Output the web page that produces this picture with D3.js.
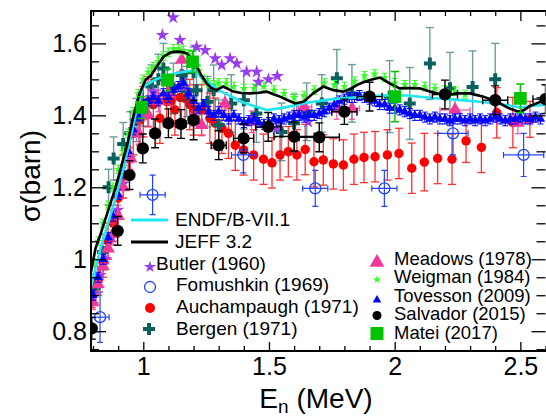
<!DOCTYPE html>
<html><head><meta charset="utf-8">
<script src="https://cdn.jsdelivr.net/npm/d3@7"></script>
<style>body{margin:0;background:#fff}svg{display:block}</style>
</head><body><svg id="c" width="546" height="417"></svg>
<script>
// ---------- DATA ----------
const xMajorTicks = [1, 1.5, 2, 2.5];
const yMajorTicks = [0.8, 1, 1.2, 1.4, 1.6];
const xTickLabels = ["1", "1.5", "2", "2.5"];
const yTickLabels = ["0.8", "1", "1.2", "1.4", "1.6"];

const endf = [[0.792,0.925],[0.81,0.975],[0.83,1.03],[0.86,1.10],[0.89,1.17],[0.92,1.25],[0.95,1.34],[0.975,1.42],[1.0,1.48],[1.05,1.50],[1.10,1.512],[1.15,1.52],[1.20,1.525],[1.23,1.505],[1.30,1.47],[1.40,1.435],[1.49,1.415],[1.55,1.42],[1.65,1.435],[1.75,1.445],[1.85,1.45],[1.95,1.455],[2.05,1.455],[2.15,1.448],[2.25,1.443],[2.35,1.437],[2.45,1.428],[2.5,1.422],[2.6,1.43]];

const jeff = [[0.792,0.965],[0.81,1.03],[0.83,1.07],[0.86,1.135],[0.89,1.20],[0.915,1.265],[0.935,1.315],[0.96,1.395],[0.985,1.46],[1.01,1.50],[1.03,1.51],[1.053,1.535],[1.08,1.563],[1.11,1.575],[1.133,1.577],[1.155,1.576],[1.173,1.572],[1.19,1.56],[1.21,1.54],[1.23,1.512],[1.252,1.489],[1.27,1.476],[1.29,1.47],[1.318,1.48],[1.358,1.466],[1.39,1.462],[1.425,1.461],[1.46,1.463],[1.491,1.466],[1.52,1.458],[1.544,1.452],[1.575,1.442],[1.604,1.433],[1.638,1.438],[1.676,1.461],[1.716,1.48],[1.756,1.47],[1.796,1.466],[1.825,1.474],[1.849,1.484],[1.875,1.492],[1.902,1.498],[1.942,1.505],[1.98,1.489],[2.02,1.475],[2.06,1.476],[2.1,1.475],[2.14,1.466],[2.175,1.46],[2.207,1.456],[2.247,1.461],[2.3,1.461],[2.353,1.452],[2.38,1.445],[2.407,1.438],[2.447,1.422],[2.492,1.41],[2.515,1.415],[2.538,1.426],[2.6,1.443]];

// [x, y]
const butler = [[0.80,0.90],[0.828,0.956],[0.85,1.0],[0.875,1.06],[0.898,1.137],[0.92,1.21],[0.945,1.28],[0.97,1.35],[1.0,1.40],[1.04,1.466],[1.076,1.623],[1.119,1.672],[1.146,1.609],[1.16,1.48],[1.212,1.59],[1.246,1.581],[1.286,1.558],[1.312,1.54],[1.345,1.558],[1.372,1.544],[1.411,1.521],[1.451,1.521],[1.458,1.493],[1.498,1.50],[1.533,1.509],[1.53,1.364],[1.617,1.405],[1.656,1.382]];

// [x, y, xErr, yErr]
const fomushkin = [[0.828,0.839,0.036,0.07],[1.037,1.179,0.05,0.055],[1.398,1.29,0.047,0.05],[1.684,1.197,0.05,0.05],[1.959,1.197,0.05,0.05],[2.232,1.35,0.06,0.06],[2.513,1.29,0.08,0.06]];

// [x, y, yErr]
const auchampaugh = [[0.795,0.895,0.03],[0.82,0.94,0.04],[0.84,0.99,0.04],[0.86,1.05,0.05],[0.88,1.10,0.05],[0.90,1.17,0.05],[0.92,1.23,0.06],[0.94,1.29,0.06],[0.96,1.35,0.06],[0.987,1.387,0.07],[1.0,1.41,0.07],[1.019,1.438,0.07],[1.04,1.43,0.07],[1.066,1.392,0.07],[1.093,1.438,0.07],[1.11,1.44,0.07],[1.126,1.415,0.07],[1.146,1.45,0.07],[1.166,1.447,0.07],[1.185,1.43,0.07],[1.2,1.415,0.07],[1.232,1.415,0.07],[1.265,1.392,0.07],[1.286,1.378,0.07],[1.313,1.364,0.07],[1.339,1.35,0.07],[1.366,1.317,0.07],[1.399,1.304,0.07],[1.439,1.29,0.07],[1.478,1.278,0.07],[1.512,1.268,0.07],[1.544,1.29,0.07],[1.577,1.299,0.07],[1.611,1.29,0.07],[1.644,1.305,0.07],[1.679,1.271,0.07],[1.716,1.276,0.07],[1.756,1.265,0.07],[1.796,1.262,0.07],[1.838,1.278,0.07],[1.878,1.283,0.07],[1.922,1.285,0.07],[1.971,1.29,0.07],[2.017,1.294,0.07],[2.068,1.253,0.07],[2.118,1.27,0.08],[2.171,1.28,0.07],[2.228,1.278,0.07],[2.284,1.329,0.06],[2.345,1.311,0.07],[2.406,1.407,0.07],[2.47,1.38,0.07],[2.538,1.389,0.05]];

// [x, y, yErr]
const bergen = [[0.807,0.919,0.04],[0.84,1.02,0.05],[0.862,1.20,0.05],[0.882,1.28,0.06],[0.92,1.32,0.06],[0.948,1.35,0.06],[0.973,1.387,0.06],[1.00,1.43,0.06],[1.033,1.48,0.06],[1.06,1.50,0.07],[1.08,1.53,0.07],[1.12,1.475,0.07],[1.153,1.512,0.07],[1.173,1.466,0.07],[1.20,1.52,0.07],[1.212,1.47,0.07],[1.255,1.438,0.07],[1.28,1.47,0.07],[1.30,1.373,0.07],[1.35,1.433,0.08],[1.40,1.442,0.08],[1.45,1.405,0.08],[1.55,1.354,0.08],[1.60,1.378,0.08],[1.65,1.41,0.08],[1.71,1.433,0.08],[1.77,1.503,0.08],[1.83,1.461,0.08],[1.98,1.452,0.1],[2.06,1.433,0.1],[2.14,1.544,0.1],[2.22,1.475,0.1],[2.31,1.479,0.1],[2.40,1.50,0.1]];

// [x, y, xErr, yErr]
const meadows = [[0.80,0.88,0,0.02],[0.82,0.93,0,0.02],[0.84,0.98,0,0.02],[0.86,1.03,0,0.03],[0.88,1.07,0,0.03],[0.90,1.12,0,0.03],[0.92,1.20,0,0.03],[0.95,1.28,0,0.03],[0.981,1.35,0,0.03],[1.02,1.40,0,0.03],[1.06,1.44,0,0.03],[1.10,1.46,0,0.03],[1.153,1.554,0,0.03],[1.20,1.40,0,0.03],[1.232,1.373,0,0.03],[1.325,1.433,0,0.03],[1.431,1.382,0,0.03],[1.64,1.424,0.03,0.03],[1.77,1.419,0.03,0.03],[1.83,1.419,0.03,0.03],[2.24,1.415,0.06,0.03],[2.49,1.379,0.05,0.03]];

// [x, y]
const weigman = [[0.80,0.99],[0.82,1.05],[0.84,1.10],[0.86,1.15],[0.88,1.20],[0.90,1.25],[0.92,1.30],[0.94,1.35],[0.96,1.41],[0.98,1.46],[1.00,1.50],[1.02,1.52],[1.04,1.535],[1.06,1.55],[1.08,1.565],[1.10,1.575],[1.12,1.585],[1.14,1.585],[1.16,1.58],[1.18,1.57],[1.20,1.55],[1.22,1.525],[1.24,1.50],[1.26,1.49],[1.28,1.485],[1.30,1.49],[1.33,1.49],[1.36,1.48],[1.40,1.475],[1.44,1.475],[1.48,1.48],[1.52,1.47],[1.56,1.46],[1.60,1.45],[1.64,1.455],[1.68,1.47],[1.72,1.49],[1.76,1.485],[1.80,1.48],[1.84,1.495],[1.88,1.51],[1.92,1.515],[1.96,1.505],[2.00,1.49],[2.04,1.485],[2.08,1.485],[2.12,1.48],[2.16,1.475],[2.20,1.47],[2.24,1.467],[2.28,1.458]];

// [x, y]
const tovesson = [[0.80,0.90],[0.82,0.95],[0.84,1.00],[0.86,1.06],[0.88,1.12],[0.90,1.18],[0.92,1.24],[0.94,1.30],[0.96,1.36],[0.98,1.40],[1.00,1.43],[1.02,1.44],[1.04,1.45],[1.06,1.44],[1.08,1.46],[1.10,1.45],[1.12,1.47],[1.14,1.48],[1.16,1.49],[1.18,1.46],[1.20,1.44],[1.22,1.42],[1.24,1.43],[1.26,1.41],[1.28,1.40],[1.30,1.41],[1.32,1.40],[1.34,1.39],[1.36,1.40],[1.38,1.39],[1.40,1.38],[1.42,1.385],[1.44,1.39],[1.46,1.38],[1.48,1.375],[1.50,1.38],[1.52,1.39],[1.54,1.385],[1.56,1.39],[1.58,1.395],[1.60,1.40],[1.62,1.40],[1.64,1.395],[1.66,1.40],[1.68,1.40],[1.70,1.405],[1.72,1.41],[1.74,1.42],[1.76,1.43],[1.78,1.44],[1.80,1.445],[1.82,1.45],[1.84,1.45],[1.86,1.455],[1.88,1.45],[1.90,1.445],[1.92,1.44],[1.94,1.43],[1.96,1.43],[1.98,1.42],[2.00,1.42],[2.02,1.415],[2.04,1.41],[2.06,1.405],[2.08,1.40],[2.10,1.40],[2.12,1.395],[2.14,1.39],[2.16,1.395],[2.18,1.39],[2.20,1.39],[2.22,1.385],[2.24,1.39],[2.26,1.39],[2.28,1.385],[2.30,1.39],[2.32,1.385],[2.34,1.39],[2.36,1.385],[2.38,1.39],[2.40,1.395],[2.42,1.39],[2.44,1.385],[2.46,1.39],[2.48,1.39],[2.50,1.395],[2.52,1.39],[2.54,1.39],[2.56,1.395],[2.58,1.39]];

// [x, y, xErr, yErr]
const salvador = [[0.795,0.808,0,0.03],[0.898,1.079,0,0.04],[0.945,1.234,0,0.04],[0.998,1.308,0,0.04],[1.047,1.35,0,0.04],[1.10,1.378,0,0.04],[1.15,1.376,0.02,0.04],[1.20,1.387,0.02,0.055],[1.30,1.317,0.03,0.04],[1.399,1.336,0.04,0.04],[1.497,1.368,0.05,0.04],[1.60,1.341,0.08,0.04],[1.70,1.339,0.08,0.04],[1.80,1.41,0.05,0.035],[1.90,1.452,0.05,0.04],[2.20,1.458,0.05,0.04],[2.40,1.442,0.05,0.04],[2.60,1.445,0.05,0.04]];

// [x, y, yErr]
const matei = [[0.994,1.422,0.03],[1.096,1.498,0.03],[1.196,1.549,0.03],[2.001,1.452,0.07],[2.5,1.447,0.04]];

const legendLeft = ["ENDF/B-VII.1","JEFF 3.2","Butler (1960)","Fomushkin (1969)","Auchampaugh (1971)","Bergen (1971)"];
const legendRight = ["Meadows (1978)","Weigman (1984)","Tovesson (2009)","Salvador (2015)","Matei (2017)"];

// ---------- COLORS ----------
const C = {endf:"#1ee6f0", jeff:"#000", butler:"#9a3cf0", fom:"#2244ff", auch:"#ff0000", bergen:"#0a5f5f",
  meadows:"#f2389a", weig:"#33ff22", tov:"#0000ff", salv:"#000", matei:"#00c400"};

const FONT = "'Liberation Sans', Arial, Helvetica, sans-serif";
const svg = d3.select("#c");
const L = 91, R = 545.5, T = 11, B = 351;
const x = d3.scaleLinear().domain([0.792, 2.6]).range([L, R]);
const y = d3.scaleLinear().domain([0.745, 1.69]).range([B, T]);

const plot = svg.append("g");
svg.append("clipPath").attr("id","cp").append("rect").attr("x",L).attr("y",T).attr("width",R-L).attr("height",B-T);
const pg = plot.append("g").attr("clip-path","url(#cp)");

function errBars(g, data, opt) {
  const gg = g.append("g").attr("stroke", opt.color).attr("stroke-width", opt.sw||1.2).attr("opacity", opt.op||1).attr("fill","none");
  data.forEach(d => {
    const ye = opt.ye(d), xe = opt.xe ? opt.xe(d) : 0;
    const cx = x(d[0]), cy = y(d[1]);
    if (ye > 0) {
      const y1 = y(d[1]+ye), y2 = y(d[1]-ye);
      gg.append("line").attr("x1",cx).attr("x2",cx).attr("y1",y1).attr("y2",y2);
      if (opt.cap) {
        gg.append("line").attr("x1",cx-opt.cap).attr("x2",cx+opt.cap).attr("y1",y1).attr("y2",y1);
        gg.append("line").attr("x1",cx-opt.cap).attr("x2",cx+opt.cap).attr("y1",y2).attr("y2",y2);
      }
    }
    if (xe > 0) {
      const x1 = x(d[0]-xe), x2 = x(d[0]+xe);
      gg.append("line").attr("x1",x1).attr("x2",x2).attr("y1",cy).attr("y2",cy);
      if (opt.cap) {
        gg.append("line").attr("x1",x1).attr("x2",x1).attr("y1",cy-opt.cap).attr("y2",cy+opt.cap);
        gg.append("line").attr("x1",x2).attr("x2",x2).attr("y1",cy-opt.cap).attr("y2",cy+opt.cap);
      }
    }
  });
}
function marks(g, data, type, size, fill) {
  g.append("g").selectAll("path").data(data).join("path")
    .attr("transform", d => `translate(${x(d[0])},${y(d[1])})`)
    .attr("d", d3.symbol().type(type).size(size))
    .attr("fill", fill);
}

// Auchampaugh
errBars(pg, auchampaugh, {color:C.auch, ye:d=>d[2], cap:4, op:0.8, sw:1.3});
marks(pg, auchampaugh, d3.symbolCircle, 70, C.auch);
// Bergen
errBars(pg, bergen, {color:C.bergen, ye:d=>d[2], cap:4, op:0.6, sw:1.4});
marks(pg, bergen, d3.symbolCross, 80, C.bergen);
// Butler
marks(pg, butler, d3.symbolStar, 55, C.butler);
// Fomushkin
errBars(pg, fomushkin, {color:C.fom, ye:d=>d[3], xe:d=>d[2], cap:3, sw:1.2});
pg.append("g").selectAll("circle").data(fomushkin).join("circle")
  .attr("cx",d=>x(d[0])).attr("cy",d=>y(d[1])).attr("r",5.5).attr("fill","none").attr("stroke",C.fom).attr("stroke-width",1.3);
// Meadows
errBars(pg, meadows, {color:C.meadows, ye:d=>d[3], xe:d=>d[2], cap:3, op:0.8, sw:1.3});
marks(pg, meadows, d3.symbolTriangle, 80, C.meadows);
// Weigman
errBars(pg, weigman, {color:C.weig, ye:()=>0.012, cap:3, sw:1});
marks(pg, weigman, d3.symbolStar, 24, C.weig);
// Tovesson
errBars(pg, tovesson, {color:C.tov, ye:()=>0.014, cap:3, sw:1});
marks(pg, tovesson, d3.symbolTriangle, 38, C.tov);
// Lines
const line = d3.line().x(d=>x(d[0])).y(d=>y(d[1]));
pg.append("path").datum(endf).attr("d",line).attr("fill","none").attr("stroke",C.endf).attr("stroke-width",2.6);
pg.append("path").datum(jeff).attr("d",line).attr("fill","none").attr("stroke",C.jeff).attr("stroke-width",2.6);
// Salvador
errBars(pg, salvador, {color:C.salv, ye:d=>d[3], xe:d=>d[2], cap:4, sw:1.4});
marks(pg, salvador, d3.symbolCircle, 120, C.salv);
// Matei
errBars(pg, matei, {color:C.matei, ye:d=>d[2], cap:4, sw:1.4});
marks(pg, matei, d3.symbolSquare, 160, C.matei);

// ---------- AXES ----------
const minorX = d3.range(8, 27).map(v => v/10).filter(v => !xMajorTicks.some(m => Math.abs(m-v)<1e-6));
const minorY = d3.range(15, 34).map(v => v/20).filter(v => !yMajorTicks.some(m => Math.abs(m-v)<1e-6));
function styleAxis(g){ g.select(".domain").remove(); g.selectAll("line").attr("stroke","#000").attr("stroke-width",1.3); g.selectAll("text").attr("font-family",FONT).attr("font-size",25).attr("fill","#000"); }

svg.append("g").attr("transform",`translate(0,${B})`)
  .call(d3.axisBottom(x).tickValues(xMajorTicks).tickFormat((d,i)=>xTickLabels[i]).tickSizeInner(-9).tickSizeOuter(0).tickPadding(6)).call(styleAxis);
svg.append("g").attr("transform",`translate(0,${B})`)
  .call(d3.axisBottom(x).tickValues(minorX).tickFormat("").tickSizeInner(-5).tickSizeOuter(0)).call(styleAxis);
svg.append("g").attr("transform",`translate(0,${T})`)
  .call(d3.axisTop(x).tickValues(xMajorTicks).tickFormat("").tickSizeInner(-10).tickSizeOuter(0)).call(styleAxis);
svg.append("g").attr("transform",`translate(0,${T})`)
  .call(d3.axisTop(x).tickValues(minorX).tickFormat("").tickSizeInner(-5).tickSizeOuter(0)).call(styleAxis);
svg.append("g").attr("transform",`translate(${L},0)`)
  .call(d3.axisLeft(y).tickValues(yMajorTicks).tickFormat((d,i)=>yTickLabels[i]).tickSizeInner(-15).tickSizeOuter(0).tickPadding(4)).call(styleAxis);
svg.append("g").attr("transform",`translate(${L},0)`)
  .call(d3.axisLeft(y).tickValues(minorY).tickFormat("").tickSizeInner(-8).tickSizeOuter(0)).call(styleAxis);
svg.append("g").attr("transform",`translate(${R},0)`)
  .call(d3.axisRight(y).tickValues(yMajorTicks).tickFormat("").tickSizeInner(-14).tickSizeOuter(0)).call(styleAxis);
svg.append("g").attr("transform",`translate(${R},0)`)
  .call(d3.axisRight(y).tickValues(minorY).tickFormat("").tickSizeInner(-9).tickSizeOuter(0)).call(styleAxis);

// frame
svg.append("path").attr("d",`M${R+2},${T}H${L}V${B}H${R+2}`).attr("fill","none").attr("stroke","#000").attr("stroke-width",2);

// titles
svg.append("text").attr("transform","translate(40,176) rotate(-90)").attr("text-anchor","middle")
  .attr("font-family",FONT).attr("font-size",28).text("σ(barn)");
const xt = svg.append("text").attr("x",316).attr("y",408).attr("text-anchor","middle").attr("font-family",FONT).attr("font-size",28);
xt.append("tspan").text("E");
xt.append("tspan").attr("font-size",19).attr("dy",5).text("n");
xt.append("tspan").attr("dy",-5).text(" (MeV)");

// ---------- LEGEND ----------
const lg = svg.append("g").attr("font-family",FONT).attr("font-size",19);
const lBase = [226, 248, 269.5, 291, 313, 334.5];
const lSym = [220, 242, 265, 287, 308, 329];
lg.append("line").attr("x1",131).attr("x2",168).attr("y1",lSym[0]).attr("y2",lSym[0]).attr("stroke",C.endf).attr("stroke-width",3);
lg.append("line").attr("x1",131).attr("x2",168).attr("y1",lSym[1]).attr("y2",lSym[1]).attr("stroke",C.jeff).attr("stroke-width",3);
lg.append("path").attr("transform",`translate(150,${lSym[2]+2})`).attr("d",d3.symbol().type(d3.symbolStar).size(45)).attr("fill",C.butler);
lg.append("circle").attr("cx",150).attr("cy",lSym[3]).attr("r",5.5).attr("fill","none").attr("stroke",C.fom).attr("stroke-width",1.3);
lg.append("circle").attr("cx",150).attr("cy",lSym[4]).attr("r",5).attr("fill",C.auch);
lg.append("path").attr("transform",`translate(149,${lSym[5]})`).attr("d",d3.symbol().type(d3.symbolCross).size(80)).attr("fill",C.bergen);
const lx = [175,175,156,176,176,176];
legendLeft.forEach((t,i)=> lg.append("text").attr("x",lx[i]).attr("y",lBase[i]).text(t));

const rBase = [265, 283, 302, 320, 338.5];
const rSym = [262.5, 279.5, 300, 315.5, 333.5];
const rg = svg.append("g").attr("font-family",FONT).attr("font-size",18.5);
rg.append("path").attr("transform",`translate(377,${rSym[0]})`).attr("d",d3.symbol().type(d3.symbolTriangle).size(95)).attr("fill",C.meadows);
rg.append("path").attr("transform",`translate(377,${rSym[1]})`).attr("d",d3.symbol().type(d3.symbolStar).size(22)).attr("fill",C.weig);
rg.append("path").attr("transform",`translate(377,${rSym[2]})`).attr("d",d3.symbol().type(d3.symbolTriangle).size(32)).attr("fill",C.tov);
rg.append("circle").attr("cx",377).attr("cy",rSym[3]).attr("r",4.5).attr("fill",C.salv);
rg.append("rect").attr("x",370.5).attr("y",rSym[4]-6.5).attr("width",13).attr("height",13).attr("fill",C.matei);
legendRight.forEach((t,i)=> rg.append("text").attr("x",394).attr("y",rBase[i]).text(t));
</script></body></html>
